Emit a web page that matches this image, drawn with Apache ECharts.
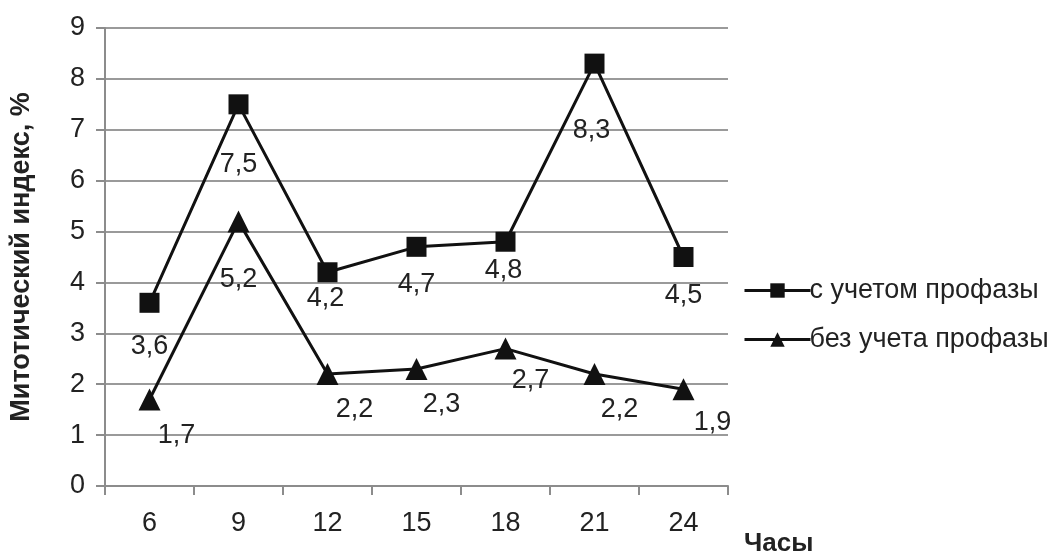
<!DOCTYPE html>
<html>
<head>
<meta charset="utf-8">
<script src="https://cdn.jsdelivr.net/npm/echarts@6/dist/echarts.min.js"></script>
<style>html,body{margin:0;padding:0;background:#fff}#c{width:1059px;height:555px}</style>
</head>
<body>
<div id="c"></div>
<script>
const categories = ['6', '9', '12', '15', '18', '21', '24'];
const withProphase = [3.6, 7.5, 4.2, 4.7, 4.8, 8.3, 4.5];
const withoutProphase = [1.7, 5.2, 2.2, 2.3, 2.7, 2.2, 1.9];
const seriesNames = ['с учетом профазы', 'без учета профазы'];
const yTitle = 'Митотический индекс, %';
const xTitle = 'Часы';

// label offsets (layout only)
const offs1 = [[0, 44], [0, 60], [-2, 26], [0, 38], [-2, 29], [-3, 67], [0, 39]];
const offs2 = [[27, 36], [0, 58], [27, 36], [25, 36], [25, 32], [25, 36], [29, 33]];

const font = '"Liberation Sans", Arial, sans-serif';
const fmt = p => String(p.value).replace('.', ',');

function mk(vals, offs) {
  return vals.map((v, i) => ({ value: v, label: { offset: offs[i] } }));
}

const chart = echarts.init(document.getElementById('c'), null, { renderer: 'canvas' });
chart.setOption({
  animation: false,
  backgroundColor: '#fff',
  grid: { left: 101, right: 331, top: 28, bottom: 69, containLabel: false },
  xAxis: {
    type: 'category',
    data: categories,
    boundaryGap: true,
    axisLine: { lineStyle: { color: '#8c8c8c', width: 2 } },
    axisTick: { show: true, length: 9, lineStyle: { color: '#8c8c8c', width: 2 } },
    axisLabel: { color: '#222', fontSize: 27, fontFamily: font, margin: 24 },
    splitLine: { show: false }
  },
  yAxis: {
    type: 'value',
    min: 0, max: 9, interval: 1,
    name: yTitle,
    nameLocation: 'middle',
    nameGap: 70,
    nameRotate: 90,
    nameTextStyle: { color: '#222', fontSize: 27, fontWeight: 'bold', fontFamily: font },
    axisLine: { show: true, lineStyle: { color: '#8c8c8c', width: 2 } },
    axisTick: { show: true, length: 9, lineStyle: { color: '#8c8c8c', width: 2 } },
    axisLabel: { color: '#222', fontSize: 27, fontFamily: font, margin: 20 },
    splitLine: { lineStyle: { color: '#9a9a9a', width: 2 } }
  },
  legend: {
    orient: 'vertical',
    left: 738,
    top: 272,
    itemGap: 22,
    itemWidth: 66,
    itemHeight: 18,
    lineStyle: { width: 3, color: '#111' },
    textStyle: { color: '#222', fontSize: 27, fontFamily: font, padding: [0, 0, 0, -6] },
    data: seriesNames
  },
  graphic: [{
    type: 'text',
    left: 744, top: 531,
    style: { text: xTitle, fill: '#222', font: 'bold 26px ' + font }
  }],
  series: [{
    name: seriesNames[0],
    type: 'line',
    data: mk(withProphase, offs1),
    symbol: 'rect',
    symbolSize: 20,
    itemStyle: { color: '#111' },
    lineStyle: { color: '#111', width: 3 },
    label: { show: true, position: 'inside', formatter: fmt, color: '#222', fontSize: 27, fontFamily: font }
  }, {
    name: seriesNames[1],
    type: 'line',
    data: mk(withoutProphase, offs2),
    symbol: 'triangle',
    symbolSize: 22,
    itemStyle: { color: '#111' },
    lineStyle: { color: '#111', width: 3 },
    label: { show: true, position: 'inside', formatter: fmt, color: '#222', fontSize: 27, fontFamily: font }
  }]
});
</script>
</body>
</html>
